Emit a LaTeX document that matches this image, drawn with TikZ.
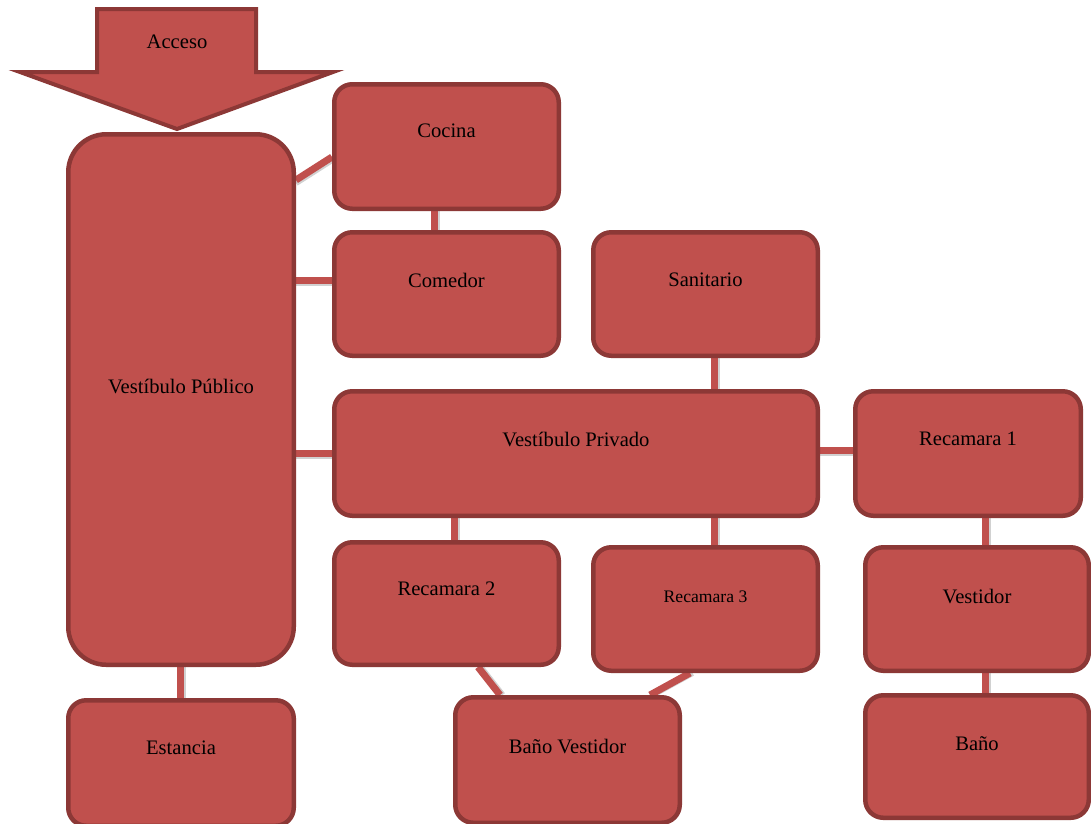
\documentclass[tikz,border=0pt]{standalone}
\usepackage{fontspec}
\setmainfont{Liberation Serif}
\usetikzlibrary{backgrounds,calc}
\definecolor{boxred}{HTML}{C0504D}
\definecolor{bdr}{HTML}{8C3836}
\tikzset{
  box/.style={draw=bdr, fill=boxred, line width=4.5pt, rounded corners=18pt, inner sep=0pt},
  link/.style={draw=boxred, line width=7pt},
  linkshadow/.style={draw=black!18, line width=6pt, shift={(2.5pt,-3pt)}}
}
\newcommand\lk[2]{\draw[linkshadow] #1 -- #2; \draw[link] #1 -- #2;}
\begin{document}
\begin{tikzpicture}[x=1pt,y=-1pt,font=\fontsize{20.6}{24}\selectfont]
\useasboundingbox (0,0) rectangle (1091,823);
% Access arrow
\draw[draw=bdr, fill=boxred, line width=4pt, line join=miter, miter limit=20]
  (97,9) -- (256,9) -- (256,72) -- (333,72) -- (177,129) -- (20,72) -- (97,72) -- cycle;
\node (acceso) at (177,42) {Acceso};
% Boxes
\node[box, rounded corners=38pt, minimum width=225.5, minimum height=530.5,
  label={[yshift=13.5pt]center:Vestíbulo Público}] (vp) at (181,399.5) {};
\node[box, minimum width=224.5, minimum height=124.5,
  label={[yshift=15.5pt]center:Cocina}] (cocina) at (446.5,146.5) {};
\node[box, minimum width=224.5, minimum height=123.5,
  label={[yshift=14pt]center:Comedor}] (comedor) at (446.5,294) {};
\node[box, minimum width=224.5, minimum height=123.5,
  label={[yshift=14pt]center:Sanitario}] (sanit) at (705.5,294) {};
\node[box, minimum width=483.5, minimum height=124.5,
  label={[yshift=14.5pt]center:Vestíbulo Privado}] (vpriv) at (576,453.5) {};
\node[box, minimum width=225.5, minimum height=124.5,
  label={[yshift=14.5pt]center:Recamara 1}] (rec1) at (968,453.5) {};
\node[box, minimum width=224.5, minimum height=122.5,
  label={[yshift=14.5pt]center:Recamara 2}] (rec2) at (446.5,603.5) {};
\node[box, minimum width=224.5, minimum height=123.5,
  label={[yshift=12pt,font=\fontsize{17.6}{21}\selectfont]center:Recamara 3}] (rec3) at (705.5,609) {};
\node[box, minimum width=223.5, minimum height=123.5,
  label={[yshift=13pt]center:Vestidor}] (vestidor) at (977,609) {};
\node[box, minimum width=225.5, minimum height=125.5,
  label={[yshift=15pt]center:Estancia}] (estancia) at (181,763) {};
\node[box, minimum width=224.5, minimum height=125.5,
  label={[yshift=14pt]center:Baño Vestidor}] (banov) at (567.5,760) {};
\node[box, minimum width=223.5, minimum height=122.5,
  label={[yshift=12.5pt]center:Baño}] (bano) at (977,756.5) {};
% Connectors
\begin{pgfonlayer}{background}
\fill[white] (0,0) rectangle (1091,823);
\lk{(vp.east |- 0,180)}{(cocina.west |- 0,157)}
\lk{(cocina.south -| 434,0)}{(comedor.north -| 434,0)}
\lk{(vp.east |- 0,280)}{(comedor.west |- 0,280)}
\lk{(vp.east |- 0,453)}{(vpriv.west |- 0,453)}
\lk{(sanit.south -| 714,0)}{(vpriv.north -| 714,0)}
\lk{(vpriv.east |- 0,450)}{(rec1.west |- 0,450)}
\lk{(vpriv.south -| 454,0)}{(rec2.north -| 454,0)}
\lk{(vpriv.south -| 714,0)}{(rec3.north -| 714,0)}
\lk{(rec1.south -| 985,0)}{(vestidor.north -| 985,0)}
\lk{(vestidor.south -| 985,0)}{(bano.north -| 985,0)}
\lk{(vp.south -| 180,0)}{(estancia.north -| 180,0)}
\lk{(rec2.south -| 478,0)}{(banov.north -| 500,0)}
\lk{(rec3.south -| 690,0)}{(banov.north -| 650,0)}
\end{pgfonlayer}
\end{tikzpicture}
\end{document}
